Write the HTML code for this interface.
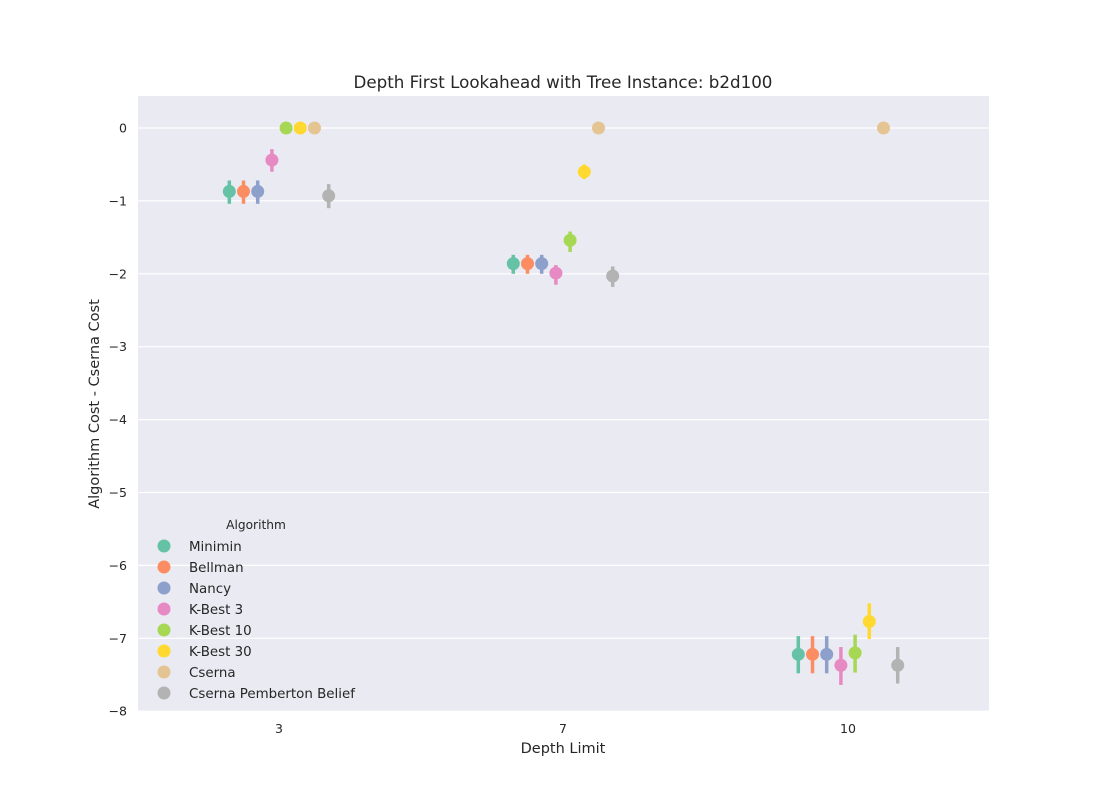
<!DOCTYPE html>
<html><head><meta charset="utf-8"><style>
body{margin:0;background:#fff;font-family:"Liberation Sans","DejaVu Sans",sans-serif}
svg text{font-family:"DejaVu Sans","Liberation Sans",sans-serif}
</style></head><body>
<svg id="chart" width="1100" height="800">
<rect x="0" y="0" width="1100" height="800" fill="#fff"/>
<rect x="138" y="96" width="851" height="615" fill="#eaeaf2"/>
<g id="grid"></g><g id="marks"></g><g id="axes"></g><g id="legend"></g>
<text x="563" y="88" text-anchor="middle" font-size="16.7" fill="#262626">Depth First Lookahead with Tree Instance: b2d100</text>
<text x="563" y="753" text-anchor="middle" font-size="14.5" fill="#262626">Depth Limit</text>
<text x="99" y="404" text-anchor="middle" font-size="14.5" fill="#262626" transform="rotate(-90 99 404)">Algorithm Cost - Cserna Cost</text>
</svg>
<script>
const categories=["3","7","10"];
const seriesNames=["Minimin","Bellman","Nancy","K-Best 3","K-Best 10","K-Best 30","Cserna","Cserna Pemberton Belief"];
const colors=["#66c2a5","#fc8d62","#8da0cb","#e78ac3","#a6d854","#ffd92f","#e5c494","#b3b3b3"];
const yTicks=[0,-1,-2,-3,-4,-5,-6,-7,-8];
// mean per series per category
const means=[
 [-0.87,-1.86,-7.22],
 [-0.87,-1.86,-7.22],
 [-0.87,-1.86,-7.22],
 [-0.44,-1.99,-7.37],
 [0,-1.54,-7.20],
 [0,-0.60,-6.77],
 [0,0,0],
 [-0.93,-2.03,-7.37]
];
const lows=[
 [-1.04,-2.00,-7.48],
 [-1.04,-2.00,-7.48],
 [-1.04,-2.00,-7.48],
 [-0.60,-2.15,-7.64],
 [0,-1.70,-7.47],
 [0,-0.70,-7.01],
 [0,0,0],
 [-1.10,-2.18,-7.62]
];
const highs=[
 [-0.72,-1.74,-6.97],
 [-0.72,-1.74,-6.97],
 [-0.72,-1.74,-6.97],
 [-0.29,-1.88,-7.12],
 [0,-1.42,-6.95],
 [0,-0.50,-6.52],
 [0,0,0],
 [-0.77,-1.90,-7.12]
];
const NS="http://www.w3.org/2000/svg";
function el(t,a,p){const e=document.createElementNS(NS,t);for(const k in a)e.setAttribute(k,a[k]);document.getElementById(p).appendChild(e);return e;}
const y=v=>128+(-v)*72.9;
const catX=[279,563,848];
const dodge=14.2;
const x=(ci,si)=>catX[ci]+(si-(seriesNames.length-1)/2)*dodge;
yTicks.forEach(t=>{
 const g=el("line",{x1:138,x2:989,y1:y(t),y2:y(t),stroke:"#fff","stroke-width":1.2},"grid");
 
 
 const tx=el("text",{x:127,y:y(t)+4.5,"text-anchor":"end","font-size":12.5,fill:"#262626"},"axes");
 tx.textContent=t===0?"0":"\u2212"+(-t);
 
 
});
categories.forEach((c,i)=>{
 const tx=el("text",{x:catX[i],y:733,"text-anchor":"middle","font-size":12.5,fill:"#262626"},"axes");
 tx.textContent=c;
 
 
});
seriesNames.forEach((n,si)=>{
 categories.forEach((c,ci)=>{
  const px=x(ci,si);
  const l=el("line",{x1:px,x2:px,y1:y(highs[si][ci]),y2:y(lows[si][ci]),stroke:colors[si],"stroke-width":3.5},"marks");
  
  
  const p=el("circle",{cx:px,cy:y(means[si][ci]),r:6.5,fill:colors[si]},"marks");
  
  
 });
 const ly=546+si*21;
 const lc=el("circle",{cx:164,cy:ly,r:6.5,fill:colors[si]},"legend");
 
 
 const lt=el("text",{x:189,y:ly+5,"font-size":13.4,fill:"#262626"},"legend");
 lt.textContent=n;
 
 
});
const lh=el("text",{x:256,y:529,"text-anchor":"middle","font-size":12.2,fill:"#262626"},"legend");
lh.textContent="Algorithm";


</script>
</body></html>
